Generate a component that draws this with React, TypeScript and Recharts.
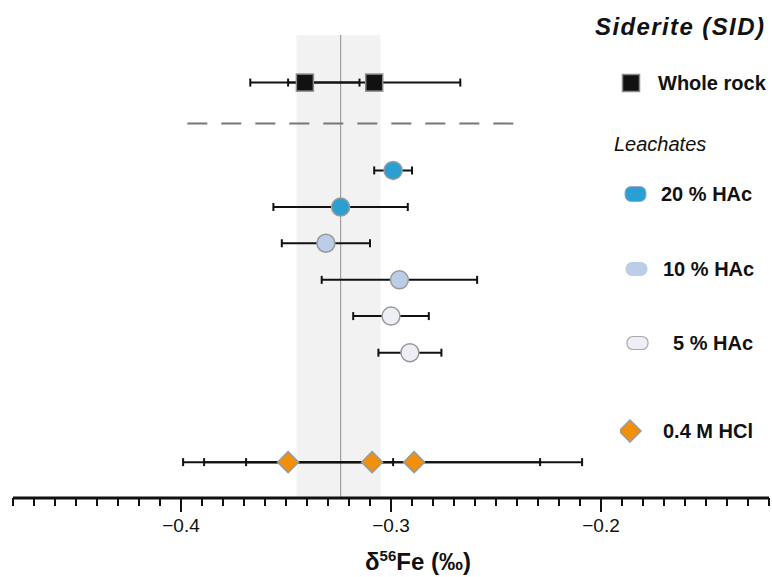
import { ScatterChart, Scatter, XAxis, YAxis, ErrorBar, ReferenceArea, ReferenceLine, Label } from "recharts"

// δ56Fe values (‰) and 2SD
const wholeRockValues = [-0.341, -0.308]
const wholeRockErrors = [0.026, 0.041]
const hac20Values = [-0.299, -0.324]
const hac20Errors = [0.009, 0.032]
const hac10Values = [-0.331, -0.296]
const hac10Errors = [0.021, 0.037]
const hac5Values = [-0.3, -0.291]
const hac5Errors = [0.018, 0.015]
const hclValues = [-0.349, -0.309, -0.289]
const hclErrors = [0.05, 0.08, 0.08]

// sample mean and its band
const meanValue = -0.324
const bandLow = -0.345
const bandHigh = -0.305

// row slots (top to bottom)
const wholeRockRow = 1.3
const dividerRow = 2.42
const hac20Rows = [3.7, 4.7]
const hac10Rows = [5.69, 6.69]
const hac5Rows = [7.68, 8.68]
const hclRow = 11.67

const majorTicks = [-0.4, -0.3, -0.2]
const majorLabels = ["\u22120.4", "\u22120.3", "\u22120.2"]
const allTicks = Array.from({ length: 37 }, (_, i) => Math.round((-0.48 + i * 0.01) * 100) / 100)

const toPoints = (values: number[], errors: number[], rows: number[] | number) =>
  values.map((v, i) => ({ x: v, y: Array.isArray(rows) ? rows[i] : rows, err: errors[i] }))

const wholeRock = toPoints(wholeRockValues, wholeRockErrors, wholeRockRow)
const hac20 = toPoints(hac20Values, hac20Errors, hac20Rows)
const hac10 = toPoints(hac10Values, hac10Errors, hac10Rows)
const hac5 = toPoints(hac5Values, hac5Errors, hac5Rows)
const hcl = toPoints(hclValues, hclErrors, hclRow)

const FONT = "'Liberation Sans', Arial, Helvetica, sans-serif"

const Square = (props: any) => (
  <rect x={props.cx - 8.5} y={props.cy - 8.5} width={17} height={17} fill="#111" stroke="#8a8a8a" strokeWidth={1.5} />
)
const circle = (fill: string) => (props: any) => (
  <circle cx={props.cx} cy={props.cy} r={9} fill={fill} stroke="#9a9a9a" strokeWidth={1.5} />
)
const Diamond = (props: any) => (
  <path
    d={`M${props.cx},${props.cy - 10.5} L${props.cx + 10.5},${props.cy} L${props.cx},${props.cy + 10.5} L${props.cx - 10.5},${props.cy} Z`}
    fill="#f0900c"
    stroke="#9a9a9a"
    strokeWidth={1.5}
  />
)

const AxisTick = (props: any) => {
  const { x, y, payload } = props
  const idx = majorTicks.findIndex((t) => Math.abs(t - payload.value) < 1e-6)
  return (
    <g>
      <line x1={x} x2={x} y1={y} y2={y + (idx >= 0 ? 14 : 8)} stroke="#111" strokeWidth={2} />
      {idx >= 0 && (
        <text x={x} y={y + 34} textAnchor="middle" fontFamily={FONT} fontSize={19} fill="#111">
          {majorLabels[idx]}
        </text>
      )}
    </g>
  )
}

const AxisTitle = (props: any) => {
  const vb = props.viewBox
  return (
    <text x={vb.x + vb.width / 2 + 27} y={vb.y + 72} textAnchor="middle" fontFamily={FONT} fontSize={24} fontWeight="bold" fill="#111">
      δ<tspan fontSize={15} dy={-9}>56</tspan>
      <tspan dy={9}>Fe (‰)</tspan>
    </text>
  )
}

const legendItem = (top: number, left: number, label: string, icon: any) => (
  <div key={label} style={{ position: "absolute", top, left: 0, width: 772, height: 0 }}>
    <div style={{ position: "absolute", left: 620, top: -12, width: 30, height: 24 }}>{icon}</div>
    <div style={{ position: "absolute", left, top: -12, fontFamily: FONT, fontWeight: "bold", fontSize: 20, lineHeight: "24px", color: "#111", whiteSpace: "nowrap" }}>
      {label}
    </div>
  </div>
)

const LegendBox = () => (
  <div style={{ position: "absolute", left: 0, top: 0, width: 772, height: 577, pointerEvents: "none" }}>
    <div style={{ position: "absolute", left: 595, top: 14, fontFamily: FONT, fontWeight: "bold", fontStyle: "italic", fontSize: 24, letterSpacing: 1.4, lineHeight: "26px", color: "#111", whiteSpace: "nowrap" }}>
      Siderite (SID)
    </div>
    {legendItem(83, 658, "Whole rock", <svg width={24} height={24}><rect x={2.5} y={3.5} width={17} height={17} fill="#111" stroke="#8a8a8a" strokeWidth={1.5} /></svg>)}
    <div style={{ position: "absolute", left: 614, top: 132, fontFamily: FONT, fontStyle: "italic", fontSize: 20, lineHeight: "24px", color: "#111" }}>
      Leachates
    </div>
    {legendItem(194, 661, "20 % HAc", <svg width={30} height={24}><rect x={5} y={4.5} width={21} height={15} rx={6} fill="#2b9fd1" stroke="#9ac" strokeWidth={1} /></svg>)}
    {legendItem(269, 663, "10 % HAc", <svg width={30} height={24}><rect x={6} y={5.5} width={21} height={13} rx={6} fill="#bccde8" stroke="#bccde8" strokeWidth={1} /></svg>)}
    {legendItem(343, 673, "5 % HAc", <svg width={30} height={24}><rect x={7} y={5.5} width={21} height={13} rx={6} fill="#eeeef6" stroke="#aaa" strokeWidth={1.2} /></svg>)}
    {legendItem(431, 663, "0.4 M HCl", <svg width={24} height={24}><path d="M10,1 L21,12 L10,23 L-1,12 Z" fill="#f0900c" stroke="#9a9a9a" strokeWidth={1.5} /></svg>)}
  </div>
)

export default function App() {
  return (
    <div style={{ width: 772, height: 577, position: "relative", background: "#fff" }}>
      <style>{`body{margin:0}`}</style>
      <ScatterChart width={772} height={577} margin={{ top: 35, right: 3, bottom: 0, left: 13 }}>
        <XAxis
          type="number"
          dataKey="x"
          domain={[-0.48, -0.12]}
          ticks={allTicks}
          interval={0}
          tickSize={0}
          tickMargin={0}
          tickLine={false}
          tick={<AxisTick />}
          height={79}
          axisLine={{ stroke: "#111", strokeWidth: 3 }}
          allowDataOverflow
        >
          <Label content={<AxisTitle />} />
        </XAxis>
        <YAxis type="number" dataKey="y" domain={[0, 12.65]} reversed hide allowDataOverflow />
        <ReferenceArea x1={bandLow} x2={bandHigh} fill="#f2f2f2" fillOpacity={1} stroke="none" />
        <ReferenceLine x={meanValue} stroke="#a0a0a0" strokeWidth={1.2} />
        <ReferenceLine
          segment={[{ x: -0.397, y: dividerRow }, { x: -0.238, y: dividerRow }]}
          stroke="#777"
          strokeWidth={2}
          strokeDasharray="20 14"
        />
        <Scatter data={wholeRock} shape={<Square />} isAnimationActive={false}>
          <ErrorBar dataKey="err" direction="x" stroke="#111" strokeWidth={2} width={4} />
        </Scatter>
        <Scatter data={hac20} shape={circle("#2b9fd1")} isAnimationActive={false}>
          <ErrorBar dataKey="err" direction="x" stroke="#111" strokeWidth={2} width={4} />
        </Scatter>
        <Scatter data={hac10} shape={circle("#bccde8")} isAnimationActive={false}>
          <ErrorBar dataKey="err" direction="x" stroke="#111" strokeWidth={2} width={4} />
        </Scatter>
        <Scatter data={hac5} shape={circle("#eeeef6")} isAnimationActive={false}>
          <ErrorBar dataKey="err" direction="x" stroke="#111" strokeWidth={2} width={4} />
        </Scatter>
        <Scatter data={hcl} shape={<Diamond />} isAnimationActive={false}>
          <ErrorBar dataKey="err" direction="x" stroke="#111" strokeWidth={2} width={4} />
        </Scatter>
      </ScatterChart>
      <LegendBox />
    </div>
  )
}
